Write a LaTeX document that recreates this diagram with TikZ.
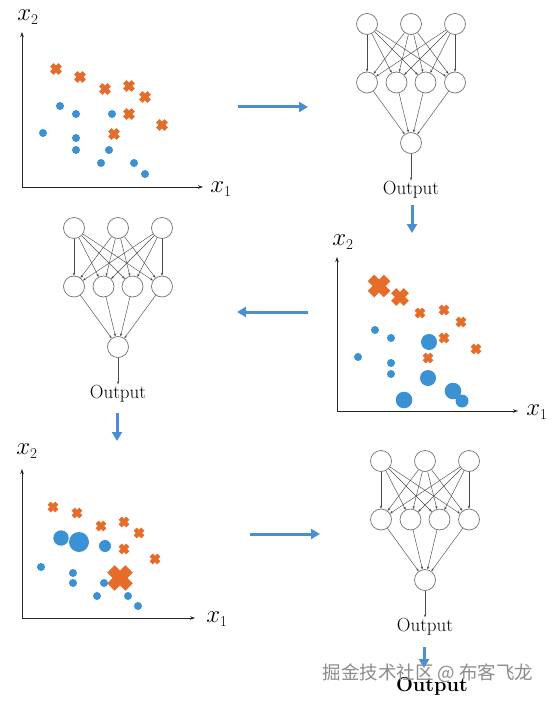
\documentclass[tikz,border=0pt]{standalone}
\usepackage{fontspec}
\newfontfamily\cjkfont{Noto Sans CJK SC}
\usetikzlibrary{arrows.meta}
\definecolor{orangec}{RGB}{230,108,42}
\definecolor{bluec}{RGB}{58,145,212}
\definecolor{arrowc}{RGB}{74,144,208}
\tikzset{
  neuron/.style={circle,draw=black!55,line width=0.7pt,fill=white,minimum size=21pt,inner sep=0pt},
  netedge/.style={draw=black!70,line width=0.45pt,-{Stealth[length=3pt,width=2.4pt]}},
  outtxt/.style={inner sep=1pt,font=\fontsize{19}{21}\selectfont},
  axisline/.style={draw=black!85,line width=0.8pt,-{Stealth[length=5pt,width=3.5pt]}},
  axlabel/.style={inner sep=0pt,font=\fontsize{28}{28}\selectfont},
  bluearrow/.style={draw=arrowc,line width=3pt,-{Triangle[length=9pt,width=10pt]}},
}
\newcommand\axl[1]{$x_{\mbox{\fontsize{15}{15}\selectfont#1}}$}
\newcommand\crs[3]{\draw[orangec,line width={#3*0.8pt}] (#1-#3*0.7,#2-#3*0.7)--(#1+#3*0.7,#2+#3*0.7) (#1-#3*0.7,#2+#3*0.7)--(#1+#3*0.7,#2-#3*0.7);}
\newcommand\dt[3]{\fill[bluec] (#1,#2) circle[radius=#3];}
\newcommand\nnet[3]{%
  \foreach \i/\dx in {1/-44,2/0,3/44} \node[neuron] (#1i\i) at (#2+\dx,#3) {};
  \foreach \j/\dx in {1/-44,2/-14.5,3/14.5,4/44} \node[neuron] (#1h\j) at (#2+\dx,#3+58.5) {};
  \node[neuron] (#1o) at (#2,#3+119) {};
  \node[outtxt] (#1t) at (#2,#3+166) {Output};
  \foreach \i in {1,2,3} {\foreach \j in {1,2,3,4} {\draw[netedge] (#1i\i) -- (#1h\j);}}
  \foreach \j in {1,2,3,4} {\draw[netedge] (#1h\j) -- (#1o);}
  \draw[netedge] (#1o) -- (#1t);
}
\begin{document}
\begin{tikzpicture}[x=1pt,y=-1pt]
\fill[white] (0,0) rectangle (553,703);
\useasboundingbox (0,0) rectangle (553,703);

% ---------- Plot 1 (top-left) ----------
\coordinate (p1o) at (22,187);
\coordinate (p1y) at (22,32);
\coordinate (p1x) at (203,187);
\draw[axisline] (p1o) -- (p1y);
\draw[axisline] (p1o) -- (p1x);
\node[axlabel] (p1ly) at (28,17) {\axl{2}};
\node[axlabel] (p1lx) at (221,189) {\axl{1}};
\crs{56}{69}{6}\crs{80}{77}{6}\crs{105}{89}{6}\crs{129}{86}{6}
\crs{145}{97}{6}\crs{129}{114}{6}\crs{162}{125}{6}\crs{114}{134}{6}
\dt{60}{106}{4}\dt{76}{114}{4}\dt{112}{114}{4}\dt{43}{133}{4}\dt{76}{138}{4}
\dt{76}{150}{4}\dt{109}{150}{4}\dt{101}{163}{4}\dt{134}{163}{4}\dt{145}{174}{4}

% ---------- Network A (top-right) ----------
\nnet{A}{411}{24}

% ---------- Plot 2 (middle-right) ----------
\coordinate (p2o) at (337,411);
\coordinate (p2y) at (337,257);
\coordinate (p2x) at (518,411);
\draw[axisline] (p2o) -- (p2y);
\draw[axisline] (p2o) -- (p2x);
\node[axlabel] (p2ly) at (343,242) {\axl{2}};
\node[axlabel] (p2lx) at (537,412) {\axl{1}};
\crs{379}{286}{11.5}\crs{400}{297}{9}
\crs{420}{313}{5.5}\crs{444}{310}{5.5}\crs{461}{322}{5.5}\crs{444}{338}{5.5}
\crs{476}{349}{5.5}\crs{428}{358}{5.5}
\dt{375}{330}{4}\dt{391}{338}{4}\dt{429}{342}{8}\dt{358}{357}{4}\dt{391}{363}{4}
\dt{391}{374}{4}\dt{428}{378}{8}\dt{404}{400}{8.3}\dt{453}{391}{8.3}\dt{462}{401}{6.5}

% ---------- Network B (middle-left) ----------
\nnet{B}{118}{228}

% ---------- Plot 3 (bottom-left) ----------
\coordinate (p3o) at (22,618);
\coordinate (p3y) at (22,469);
\coordinate (p3x) at (195,618);
\draw[axisline] (p3o) -- (p3y);
\draw[axisline] (p3o) -- (p3x);
\node[axlabel] (p3ly) at (27,451) {\axl{2}};
\node[axlabel] (p3lx) at (217,619) {\axl{1}};
\crs{53}{507}{5.5}\crs{77}{513}{5.5}\crs{101}{526}{5.5}\crs{124}{522}{5.5}
\crs{139}{533}{5.5}\crs{124}{549}{5.5}\crs{155}{559}{5.5}
\dt{61}{538}{7.7}\dt{79}{542}{10}\dt{105}{546}{6}\dt{41}{567}{4}\dt{73}{573}{4}
\dt{73}{583}{4}\dt{104}{583}{4}\dt{97}{596}{4}\dt{128}{596}{4}\dt{138}{606}{4}
\crs{120}{578}{13}

% ---------- Network C (bottom-right) ----------
\nnet{C}{425}{461}

% ---------- Blue flow arrows ----------
\coordinate (a1s) at (238,107); \coordinate (a1e) at (308,107);
\coordinate (a2s) at (412,205); \coordinate (a2e) at (412,233);
\coordinate (a3s) at (308,312); \coordinate (a3e) at (237,312);
\coordinate (a4s) at (117,413); \coordinate (a4e) at (117,441);
\coordinate (a5s) at (250,534); \coordinate (a5e) at (320,534);
\coordinate (a6s) at (424,647); \coordinate (a6e) at (424,668);
\draw[bluearrow] (a1s) -- (a1e);
\draw[bluearrow] (a2s) -- (a2e);
\draw[bluearrow] (a3s) -- (a3e);
\draw[bluearrow] (a4s) -- (a4e);
\draw[bluearrow] (a5s) -- (a5e);
\draw[bluearrow] (a6s) -- (a6e);

% ---------- Final output ----------
\node[inner sep=0pt,font=\fontsize{20}{22}\selectfont\bfseries] (final) at (432,686) {Output};
\node[inner sep=0pt,text=black!45,font=\cjkfont\fontsize{18.5}{20}\selectfont] (wm) at (428,673) {掘金技术社区 @ 布客飞龙};
\end{tikzpicture}
\end{document}
